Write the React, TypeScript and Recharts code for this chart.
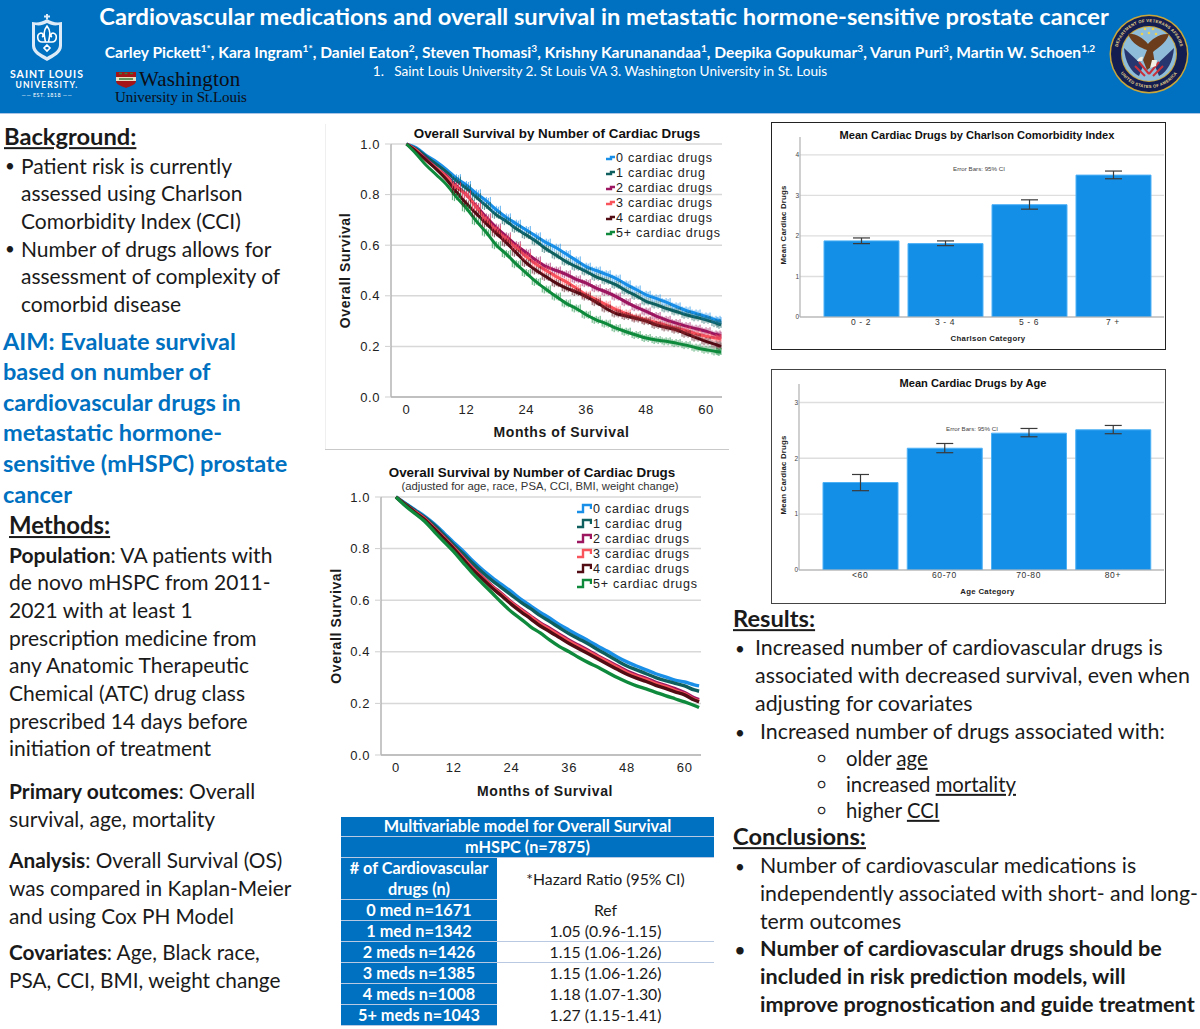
import React from 'react';
import {
  LineChart,
  Line,
  BarChart,
  Bar,
  ErrorBar,
  XAxis,
  YAxis,
  CartesianGrid,
  Legend,
} from 'recharts';

const BODY_FONT = 'Lato, "Open Sans", sans-serif';
const CHART_FONT = '"Liberation Sans", Arial, sans-serif';
const BLUE = '#0070c0';

const months = [0, 2, 4, 6, 8, 10, 12, 14, 16, 18, 20, 22, 24, 26, 28, 30, 32, 34, 36, 38, 40, 42, 44, 46, 48, 50, 52, 54, 56, 58, 60, 62, 63];
const monthTicks = [0, 12, 24, 36, 48, 60];
const survivalTicks = [0, 0.2, 0.4, 0.6, 0.8, 1];

const seriesNames = ['0 cardiac drugs', '1 cardiac drug', '2 cardiac drugs', '3 cardiac drugs', '4 cardiac drugs', '5+ cardiac drugs'];
const seriesColors = ['#1a8fe8', '#0f5f5f', '#9c1660', '#f9535c', '#520c14', '#0f8a3c'];

// Kaplan-Meier, unadjusted
const km0 = [1, 0.985, 0.955, 0.93, 0.9, 0.865, 0.838, 0.805, 0.775, 0.74, 0.71, 0.685, 0.66, 0.635, 0.61, 0.59, 0.565, 0.54, 0.515, 0.5, 0.485, 0.468, 0.445, 0.425, 0.404, 0.39, 0.375, 0.358, 0.342, 0.33, 0.318, 0.305, 0.3];
const km1 = [1, 0.98, 0.95, 0.92, 0.89, 0.855, 0.825, 0.79, 0.755, 0.72, 0.695, 0.665, 0.64, 0.615, 0.585, 0.56, 0.535, 0.515, 0.496, 0.475, 0.46, 0.443, 0.42, 0.4, 0.378, 0.365, 0.35, 0.338, 0.325, 0.315, 0.305, 0.292, 0.285];
const km2 = [1, 0.975, 0.94, 0.905, 0.875, 0.835, 0.8, 0.755, 0.71, 0.67, 0.635, 0.6, 0.57, 0.54, 0.515, 0.5, 0.485, 0.465, 0.45, 0.43, 0.415, 0.397, 0.375, 0.355, 0.338, 0.32, 0.305, 0.292, 0.28, 0.27, 0.26, 0.247, 0.242];
const km3 = [1, 0.975, 0.935, 0.905, 0.87, 0.83, 0.8, 0.75, 0.7, 0.66, 0.625, 0.59, 0.555, 0.525, 0.5, 0.476, 0.455, 0.43, 0.404, 0.385, 0.365, 0.345, 0.33, 0.315, 0.305, 0.295, 0.283, 0.272, 0.262, 0.25, 0.24, 0.233, 0.23];
const km4 = [1, 0.97, 0.935, 0.9, 0.86, 0.81, 0.765, 0.725, 0.685, 0.647, 0.61, 0.57, 0.53, 0.5, 0.475, 0.45, 0.43, 0.415, 0.397, 0.375, 0.35, 0.33, 0.32, 0.31, 0.3, 0.285, 0.275, 0.266, 0.25, 0.235, 0.22, 0.207, 0.2];
const km5 = [1, 0.96, 0.915, 0.878, 0.84, 0.79, 0.746, 0.695, 0.65, 0.6, 0.565, 0.525, 0.49, 0.455, 0.425, 0.397, 0.37, 0.35, 0.325, 0.305, 0.29, 0.272, 0.258, 0.245, 0.233, 0.225, 0.22, 0.213, 0.205, 0.195, 0.187, 0.18, 0.178];

// Cox model, adjusted
const adj0 = [1, 0.975, 0.95, 0.925, 0.895, 0.86, 0.824, 0.79, 0.752, 0.718, 0.688, 0.66, 0.633, 0.603, 0.578, 0.553, 0.53, 0.505, 0.484, 0.463, 0.443, 0.422, 0.402, 0.38, 0.361, 0.345, 0.33, 0.315, 0.303, 0.29, 0.283, 0.272, 0.268];
const adj1 = [1, 0.973, 0.947, 0.921, 0.89, 0.853, 0.815, 0.78, 0.742, 0.707, 0.676, 0.648, 0.62, 0.592, 0.567, 0.54, 0.517, 0.493, 0.47, 0.45, 0.43, 0.408, 0.387, 0.365, 0.345, 0.33, 0.315, 0.3, 0.288, 0.278, 0.268, 0.252, 0.247];
const adj2 = [1, 0.97, 0.943, 0.916, 0.88, 0.843, 0.805, 0.765, 0.725, 0.69, 0.655, 0.625, 0.593, 0.565, 0.538, 0.512, 0.49, 0.467, 0.445, 0.425, 0.405, 0.384, 0.364, 0.345, 0.325, 0.31, 0.297, 0.282, 0.27, 0.257, 0.242, 0.222, 0.215];
const adj3 = [1, 0.97, 0.942, 0.915, 0.879, 0.842, 0.804, 0.763, 0.722, 0.687, 0.652, 0.622, 0.59, 0.562, 0.535, 0.508, 0.486, 0.462, 0.44, 0.42, 0.4, 0.38, 0.36, 0.34, 0.32, 0.305, 0.292, 0.277, 0.265, 0.25, 0.237, 0.216, 0.21];
const adj4 = [1, 0.97, 0.94, 0.912, 0.876, 0.838, 0.8, 0.758, 0.717, 0.682, 0.647, 0.616, 0.584, 0.555, 0.528, 0.5, 0.478, 0.455, 0.432, 0.412, 0.392, 0.372, 0.352, 0.332, 0.313, 0.298, 0.285, 0.27, 0.258, 0.245, 0.233, 0.213, 0.206];
const adj5 = [1, 0.965, 0.935, 0.905, 0.865, 0.826, 0.788, 0.745, 0.703, 0.665, 0.628, 0.59, 0.555, 0.527, 0.497, 0.473, 0.445, 0.42, 0.4, 0.378, 0.358, 0.34, 0.32, 0.3, 0.283, 0.268, 0.256, 0.243, 0.23, 0.218, 0.206, 0.192, 0.184];

const charlsonCategories = ['0 - 2', '3 - 4', '5 - 6', '7 +'];
const charlsonMeans = [1.877, 1.81, 2.77, 3.5];
const charlsonLower = [1.81, 1.76, 2.66, 3.41];
const charlsonUpper = [1.95, 1.877, 2.89, 3.6];

const ageCategories = ['<60', '60-70', '70-80', '80+'];
const ageMeans = [1.566, 2.18, 2.45, 2.51];
const ageLower = [1.42, 2.1, 2.385, 2.44];
const ageUpper = [1.71, 2.265, 2.534, 2.588];

const tableLabels = ['0 med n=1671', '1 med n=1342', '2 meds n=1426', '3 meds n=1385', '4 meds n=1008', '5+ meds n=1043'];
const tableRatios = ['Ref', '1.05 (0.96-1.15)', '1.15 (1.06-1.26)', '1.15 (1.06-1.26)', '1.18 (1.07-1.30)', '1.27 (1.15-1.41)'];

const buildSurvival = (series: number[][]) =>
  months.map((month, i) => {
    const row: Record<string, number> = { month };
    series.forEach((values, s) => {
      row[`s${s}`] = values[i];
    });
    return row;
  });

const buildBars = (cats: string[], means: number[], lower: number[], upper: number[]) =>
  cats.map((name, i) => ({
    name,
    mean: means[i],
    err: [means[i] - lower[i], upper[i] - means[i]],
  }));

const kmData = buildSurvival([km0, km1, km2, km3, km4, km5]);
const adjData = buildSurvival([adj0, adj1, adj2, adj3, adj4, adj5]);
const charlsonData = buildBars(charlsonCategories, charlsonMeans, charlsonLower, charlsonUpper);
const ageData = buildBars(ageCategories, ageMeans, ageLower, ageUpper);

// censoring marks on the unadjusted curves
function CensorTicks(props: any) {
  const { cx, cy, stroke, index } = props;
  if (index < 5 || cx == null) return <g key={index} />;
  const d = [-4, -2, 0, 2, 4]
    .map((dx, i) => `M${cx + dx} ${cy - 4 + i % 2} v7`)
    .join(' ');
  return <path key={index} d={d} stroke={stroke} strokeWidth={1} strokeOpacity={0.7} fill="none" />;
}

function StepLegend({ payload, iconPath, iconWidth }: any) {
  return (
    <div>
      {(payload || []).map((item: any) => (
        <div key={item.value} style={{ display: 'flex', alignItems: 'center', height: 15, whiteSpace: 'nowrap' }}>
          <svg width={iconWidth} height={12} style={{ flex: 'none' }}>
            <path d={iconPath} stroke={item.color} strokeWidth={2.4} fill="none" />
          </svg>
          <span style={{ color: '#222', fontSize: 12.5, letterSpacing: 0.75, marginLeft: 1 }}>{item.value}</span>
        </div>
      ))}
    </div>
  );
}

function SurvivalChart({ data, left, top, width, height, margin, axisHeight, yWidth, domain, ticks, legendPos, iconPath, iconWidth, strokeWidth, yLabelOffset, xLabelOffset, xLabelShift }: any) {
  return (
    <div style={{ position: 'absolute', left, top, fontFamily: CHART_FONT, letterSpacing: 0.6 }}>
      <LineChart width={width} height={height} data={data} margin={margin}>
        <CartesianGrid vertical={false} stroke="#d8d8d8" strokeWidth={1.5} />
        <XAxis
          dataKey="month"
          type="number"
          domain={domain}
          ticks={monthTicks}
          allowDataOverflow
          height={axisHeight}
          tickLine={false}
          axisLine={{ stroke: '#b5b5b5', strokeWidth: 1.5 }}
          tick={{ fill: '#222', fontSize: 13 }}
          tickMargin={2}
          label={{ value: 'Months of Survival', position: 'insideBottom', offset: xLabelOffset, dx: xLabelShift, style: { fill: '#1a1a1a', fontSize: 14, fontWeight: 700 } }}
        />
        <YAxis
          type="number"
          domain={[0, 1]}
          ticks={survivalTicks}
          width={yWidth}
          tickSize={6}
          tickMargin={5}
          tickLine={{ stroke: '#cfcfcf' }}
          axisLine={{ stroke: '#b5b5b5', strokeWidth: 1.5 }}
          tick={{ fill: '#222', fontSize: 13 }}
          tickFormatter={(v: number) => v.toFixed(1)}
          label={{ value: 'Overall Survival', angle: -90, position: 'insideLeft', offset: yLabelOffset, style: { textAnchor: 'middle', fill: '#1a1a1a', fontSize: 14, fontWeight: 700 } }}
        />
        <Legend
          layout="vertical"
          align="center"
          verticalAlign="middle"
          wrapperStyle={{ position: 'absolute', left: legendPos[0], top: legendPos[1], width: 130, height: 90 }}
          content={(p: any) => <StepLegend payload={p.payload} iconPath={iconPath} iconWidth={iconWidth} />}
        />
        {seriesNames.map((name, i) => (
          <Line
            key={name}
            dataKey={`s${i}`}
            name={name}
            type="monotone"
            stroke={seriesColors[i]}
            strokeWidth={strokeWidth}
            dot={ticks ? (CensorTicks as any) : false}
            activeDot={false}
            isAnimationActive={false}
          />
        ))}
      </LineChart>
    </div>
  );
}

function MeanBarChart({ data, left, top, yDomain, yTicks, xTitle, plotTop, plotBottom, yWidth }: any) {
  return (
    <div style={{ position: 'absolute', left, top, fontFamily: CHART_FONT }}>
      <BarChart width={394} height={plotBottom} data={data} margin={{ top: plotTop, right: 1, bottom: 0, left: 0 }} barSize={75}>
        <CartesianGrid vertical={false} syncWithTicks stroke="#dedede" strokeWidth={1.4} />
        <XAxis
          dataKey="name"
          height={33}
          padding={{ left: 19, right: 9 }}
          tickLine={false}
          tickSize={0}
          axisLine={{ stroke: '#b0b0b0', strokeWidth: 1.2 }}
          tick={{ fill: '#333', fontSize: 8.5, letterSpacing: 0.6 }}
          tickMargin={2}
          interval={0}
          label={{ value: xTitle, position: 'insideBottom', offset: 9, dx: 6, style: { fill: '#222', fontSize: 7.8, fontWeight: 700, letterSpacing: 0.3 } }}
        />
        <YAxis
          type="number"
          domain={yDomain}
          ticks={yTicks}
          width={yWidth}
          allowDataOverflow
          tickLine={false}
          tickSize={0}
          axisLine={{ stroke: '#b0b0b0', strokeWidth: 1.2 }}
          tick={{ fill: '#444', fontSize: 6.5 }}
          tickMargin={1}
          label={{ value: 'Mean Cardiac Drugs', angle: -90, position: 'insideLeft', offset: 12, dy: -2, style: { textAnchor: 'middle', fill: '#222', fontSize: 7.8, fontWeight: 700, letterSpacing: 0.2 } }}
        />
        <Bar dataKey="mean" fill="#148fe8" stroke="#4db1f6" strokeWidth={1} isAnimationActive={false}>
          <ErrorBar dataKey="err" width={8.5} stroke="#3a3a3a" strokeWidth={1.2} direction="y" isAnimationActive={false} />
        </Bar>
      </BarChart>
    </div>
  );
}

function Txt({ x, y, size = 21, bold, color = '#1a1a1a', center, spacing, children }: any) {
  return (
    <div
      style={{
        position: 'absolute',
        left: x,
        top: y - 1.5,
        fontSize: size,
        fontWeight: bold ? 700 : 400,
        color,
        lineHeight: 1,
        letterSpacing: spacing,
        whiteSpace: 'pre',
        transform: center ? 'translate(-50%,-50%)' : 'translateY(-50%)',
      }}
    >
      {children}
    </div>
  );
}

function Lines({ x, y, step, lines, ...rest }: any) {
  return (
    <>
      {lines.map((line: any, i: number) => (
        <Txt key={i} x={x} y={y + i * step} {...rest}>
          {line}
        </Txt>
      ))}
    </>
  );
}

const b = (t: string) => <b>{t}</b>;
const u = (t: string) => <span style={{ textDecoration: 'underline' }}>{t}</span>;
const sup = (t: string) => <sup style={{ fontSize: '0.65em', lineHeight: 0 }}>{t}</sup>;

function SluLogo() {
  return (
    <svg style={{ position: 'absolute', left: 28, top: 13 }} width={38} height={50} viewBox="0 0 38 50">
      <path d="M19 1 v5 M16 3.5 h6" stroke="#dcebf7" strokeWidth={2} />
      <path d="M4 9 C10 10 14 9 19 6 C24 9 28 10 34 9 V33 C34 40 26 44 19 48 C12 44 4 40 4 33 Z" fill="#dcebf7" />
      <path d="M7 12 C12 13 15 12 19 10 C23 12 26 13 31 12 V32 C31 38 24 41 19 44 C14 41 7 38 7 32 Z" fill={BLUE} />
      <path d="M19 13 C23 18 22 22 20.5 29 H17.5 C16 22 15 18 19 13 Z M14 29 C9 29 8 21 13 20 C15 20 16 23 14 24 M24 29 C29 29 30 21 25 20 C23 20 22 23 24 24 M13 29 H25 M19 32 l3 3 -3 3 -3 -3 Z" fill="none" stroke="#fff" strokeWidth={1.6} />
    </svg>
  );
}

function WashULogo() {
  return (
    <>
      <svg style={{ position: 'absolute', left: 116, top: 72 }} width={20} height={16} viewBox="0 0 20 16">
        <path d="M0 0 H20 V9 C20 13 14 14 10 16 C6 14 0 13 0 9 Z" fill="#a51417" />
        <path d="M0 5 H20 V9 H0 Z" fill="#e9dfc0" />
        <path d="M3 1.5 h3 M8.5 1.5 h3 M14 1.5 h3 M3 7 H17" stroke="#3b7a3b" strokeWidth={1.5} />
      </svg>
      <div style={{ position: 'absolute', left: 139, top: 68.5, height: 21, fontFamily: '"Liberation Serif", serif', fontSize: 21, lineHeight: 1, color: '#0d0d14', letterSpacing: 0.15 }}>Washington</div>
      <div style={{ position: 'absolute', left: 115, top: 89.5, fontFamily: '"Liberation Serif", serif', fontSize: 15, lineHeight: 1, color: '#0d0d14', letterSpacing: -0.05 }}>University in St.Louis</div>
    </>
  );
}

function VaSeal() {
  return (
    <svg style={{ position: 'absolute', left: 1109, top: 14 }} width={80} height={80} viewBox="0 0 80 80">
      <circle cx={40} cy={40} r={39.5} fill="#c9a63a" />
      <circle cx={40} cy={40} r={38} fill="#141d4f" />
      <circle cx={40} cy={40} r={28} fill="#c9a63a" />
      <circle cx={40} cy={40} r={27} fill="#8fbcd8" />
      <defs>
        <path id="sealTop" d="M8 40 A32 32 0 0 1 72 40" />
        <path id="sealBottom" d="M6 40 A34 34 0 0 0 74 40" />
      </defs>
      <text fontSize={4.2} fontWeight={700} fill="#e8d48a" fontFamily={CHART_FONT} letterSpacing={0.25}>
        <textPath href="#sealTop" startOffset="50%" textAnchor="middle">DEPARTMENT OF VETERANS AFFAIRS</textPath>
      </text>
      <text fontSize={4.2} fontWeight={700} fill="#e8d48a" fontFamily={CHART_FONT} letterSpacing={0.25}>
        <textPath href="#sealBottom" startOffset="50%" textAnchor="middle">UNITED STATES OF AMERICA</textPath>
      </text>
      <path d="M15 34 L34 52 L30 62 C22 58 16 48 15 34 Z" fill="#27366e" />
      <path d="M65 34 L46 52 L50 62 C58 58 64 48 65 34 Z" fill="#27366e" />
      <path d="M26 52 L36 62 M30 48 L40 60 M54 52 L44 62 M50 48 L40 60" stroke="#c8303a" strokeWidth={2} />
      <path d="M38 36 C32 34 23 30 19 20 C26 19 34 24 39 30 C42 26 50 19 60 20 C57 30 48 34 44 38 L46 50 L38 56 L34 46 Z" fill="#6c3d1c" />
      <path d="M34 43 C31 42 29 45 28 47 L33 47 Z" fill="#f2efe4" />
      <path d="M43 46 L48 46 L47 52 L41 54 Z" fill="#f2efe4" />
      <circle cx={36} cy={15} r={1.3} fill="#f0d34a" />
      <circle cx={44} cy={15} r={1.3} fill="#f0d34a" />
      <circle cx={40} cy={19} r={1.3} fill="#f0d34a" />
      <circle cx={33} cy={20} r={1.3} fill="#f0d34a" />
      <circle cx={47} cy={20} r={1.3} fill="#f0d34a" />
    </svg>
  );
}

function HazardTable() {
  const cell = (l: number, t: number, w: number, h: number, bg: string, color: string, weight: number, content: React.ReactNode, border = '1px solid #b9c9e2') => (
    <div
      style={{
        position: 'absolute',
        left: l,
        top: t,
        width: w,
        height: h,
        background: bg,
        color,
        fontWeight: weight,
        fontSize: weight === 700 ? 16.3 : 15.8,
        lineHeight: '20.5px',
        textAlign: 'center',
        display: 'flex',
        alignItems: 'center',
        justifyContent: 'center',
        borderBottom: border,
        boxSizing: 'border-box',
      }}
    >
      <span>{content}</span>
    </div>
  );
  const rowTops = [900, 921, 942, 963, 984, 1005];
  return (
    <>
      {cell(341, 817, 373, 20, BLUE, '#fff', 700, 'Multivariable model for Overall Survival')}
      {cell(341, 837, 373, 21, BLUE, '#fff', 700, 'mHSPC (n=7875)')}
      {cell(341, 858, 156, 42, BLUE, '#fff', 700, <>{'# of Cardiovascular'}<br />{'drugs (n)'}</>)}
      {cell(497, 858, 217, 42, '#fff', '#1a1a1a', 400, '*Hazard Ratio (95% CI)', 'none')}
      {tableLabels.map((label, i) => (
        <React.Fragment key={label}>
          {cell(341, rowTops[i], 156, 21, BLUE, '#fff', 700, label)}
          {cell(497, rowTops[i], 217, 21, '#fff', '#1a1a1a', 400, tableRatios[i], i === 1 || i === 2 ? '1px solid #b9c9e2' : 'none')}
        </React.Fragment>
      ))}
    </>
  );
}

export default function App() {
  return (
    <div style={{ position: 'absolute', left: 0, top: 0, width: 1200, height: 1029, overflow: 'hidden', background: '#fff', fontFamily: BODY_FONT }}>
      {/* banner */}
      <div style={{ position: 'absolute', left: 0, top: 0, width: 1200, height: 113, background: BLUE, borderBottom: '1px solid #a9c4e4' }} />
      <Txt x={604} y={18} size={23.7} bold color="#fff" center>Cardiovascular medications and overall survival in metastatic hormone-sensitive prostate cancer</Txt>
      <Txt x={600} y={54} size={15.6} bold color="#fff" center>
        Carley Pickett{sup('1*')}, Kara Ingram{sup('1*')}, Daniel Eaton{sup('2')}, Steven Thomasi{sup('3')}, Krishny Karunanandaa{sup('1')}, Deepika Gopukumar{sup('3')}, Varun Puri{sup('3')}, Martin W. Schoen{sup('1,2')}
      </Txt>
      <Txt x={600} y={73} size={13.6} color="#fff" center>{'1.   Saint Louis University 2. St Louis VA 3. Washington University in St. Louis'}</Txt>
      <SluLogo />
      <Txt x={47} y={75} size={10.5} bold color="#fff" center spacing={1}>SAINT LOUIS</Txt>
      <Txt x={47} y={86} size={8.5} bold color="#fff" center spacing={1.1}>UNIVERSITY.</Txt>
      <Txt x={47} y={97} size={5.5} color="#fff" center spacing={0.4}>{'—— EST. 1818 ——'}</Txt>
      <WashULogo />
      <VaSeal />

      {/* left column */}
      <Txt x={4} y={138} size={23.7} bold>{u('Background:')}</Txt>
      <Lines x={5} y={166} step={83} size={17} lines={['•', '•']} />
      <Lines x={21} y={166} step={27.7} size={21} lines={['Patient risk is currently', 'assessed using Charlson', 'Comorbidity Index (CCI)', 'Number of drugs allows for', 'assessment of complexity of', 'comorbid disease']} />
      <Lines x={3} y={343} step={30.6} size={23.5} bold color={BLUE} lines={['AIM: Evaluate survival', 'based on number of', 'cardiovascular drugs in', 'metastatic hormone-', 'sensitive (mHSPC) prostate', 'cancer']} />
      <Txt x={9} y={526} size={23.9} bold>{u('Methods:')}</Txt>
      <Lines x={9} y={555} step={27.7} size={21} lines={[<>{b('Population')}: VA patients with</>, 'de novo mHSPC from 2011-', '2021 with at least 1', 'prescription medicine from', 'any Anatomic Therapeutic', 'Chemical (ATC) drug class', 'prescribed 14 days before', 'initiation of treatment']} />
      <Lines x={9} y={791} step={28} size={21} lines={[<>{b('Primary outcomes')}: Overall</>, 'survival, age, mortality']} />
      <Lines x={9} y={861} step={28} size={20.8} lines={[<>{b('Analysis')}: Overall Survival (OS)</>, 'was compared in Kaplan-Meier', 'and using Cox PH Model']} />
      <Lines x={9} y={953} step={28} size={20.8} lines={[<>{b('Covariates')}: Age, Black race,</>, 'PSA, CCI, BMI, weight change']} />

      {/* survival panels */}
      <div style={{ position: 'absolute', left: 325, top: 124, width: 1, height: 325, background: '#efefef' }} />
      <div style={{ position: 'absolute', left: 325, top: 449, width: 404, height: 1, background: '#c9c9c9' }} />
      <div style={{ position: 'absolute', left: 557, top: 133, transform: 'translate(-50%,-50%)', fontFamily: CHART_FONT, fontSize: 13.4, fontWeight: 700, color: '#111', whiteSpace: 'nowrap' }}>Overall Survival by Number of Cardiac Drugs</div>
      <SurvivalChart
        data={kmData}
        left={325}
        top={125}
        width={410}
        height={325}
        margin={{ top: 19, right: 13, bottom: 0, left: 0 }}
        axisHeight={53}
        yWidth={66}
        domain={[-3.1, 63.2]}
        ticks
        legendPos={[281, 25.5]}
        iconPath="M0 7 H5 V5 H9"
        iconWidth={9}
        strokeWidth={3}
        yLabelOffset={20}
        xLabelOffset={13}
        xLabelShift={5}
      />
      <div style={{ position: 'absolute', left: 532, top: 472, transform: 'translate(-50%,-50%)', fontFamily: CHART_FONT, fontSize: 13.4, fontWeight: 700, color: '#111', whiteSpace: 'nowrap' }}>Overall Survival by Number of Cardiac Drugs</div>
      <div style={{ position: 'absolute', left: 540, top: 486, transform: 'translate(-50%,-50%)', fontFamily: CHART_FONT, fontSize: 11.3, color: '#333', whiteSpace: 'nowrap' }}>(adjusted for age, race, PSA, CCI, BMI, weight change)</div>
      <SurvivalChart
        data={adjData}
        left={325}
        top={455}
        width={410}
        height={345}
        margin={{ top: 42, right: 34, bottom: 0, left: 0 }}
        axisHeight={45}
        yWidth={56}
        domain={[-3.1, 63.4]}
        ticks={false}
        legendPos={[252, 46.5]}
        iconPath="M0 9 H6 V2 H14 V6"
        iconWidth={15}
        strokeWidth={3.4}
        yLabelOffset={11}
        xLabelOffset={4}
        xLabelShift={4}
      />
      <HazardTable />

      {/* bar panels */}
      <div style={{ position: 'absolute', left: 771, top: 122, width: 395, height: 228, border: '1.5px solid #222', boxSizing: 'border-box' }} />
      <div style={{ position: 'absolute', left: 977, top: 135, transform: 'translate(-50%,-50%)', fontFamily: CHART_FONT, fontSize: 11.1, fontWeight: 700, color: '#111', whiteSpace: 'nowrap' }}>Mean Cardiac Drugs by Charlson Comorbidity Index</div>
      <div style={{ position: 'absolute', left: 979, top: 168, transform: 'translate(-50%,-50%)', fontFamily: CHART_FONT, fontSize: 6.2, color: '#444', whiteSpace: 'nowrap' }}>Error Bars: 95% CI</div>
      <MeanBarChart data={charlsonData} left={771} top={122} yDomain={[0, 4.44]} yTicks={[0, 1, 2, 3, 4]} xTitle="Charlson Category" plotTop={15} plotBottom={228} yWidth={29} />

      <div style={{ position: 'absolute', left: 771, top: 369, width: 395, height: 235, border: '1.5px solid #444', boxSizing: 'border-box' }} />
      <div style={{ position: 'absolute', left: 973, top: 383, transform: 'translate(-50%,-50%)', fontFamily: CHART_FONT, fontSize: 11.1, fontWeight: 700, color: '#111', whiteSpace: 'nowrap' }}>Mean Cardiac Drugs by Age</div>
      <MeanBarChart data={ageData} left={771} top={369} yDomain={[0, 3.33]} yTicks={[0, 1, 2, 3]} xTitle="Age Category" plotTop={15} plotBottom={234} yWidth={28} />
      <div style={{ position: 'absolute', left: 972, top: 428, transform: 'translate(-50%,-50%)', fontFamily: CHART_FONT, fontSize: 6.2, color: '#444', whiteSpace: 'nowrap' }}>Error Bars: 95% CI</div>

      {/* right column */}
      <Txt x={733} y={620} size={23.7} bold>{u('Results:')}</Txt>
      <Txt x={735} y={649} size={17}>•</Txt>
      <Lines x={755} y={649} step={28} size={21.4} lines={['Increased number of cardiovascular drugs is', 'associated with decreased survival, even when', 'adjusting for covariates']} />
      <Txt x={735} y={733} size={17}>•</Txt>
      <Txt x={760} y={733} size={21.4}>Increased number of drugs associated with:</Txt>
      <Lines x={817} y={759} step={26} size={14} lines={['○', '○', '○']} />
      <Lines x={846} y={759} step={26} size={20.3} lines={[<>older {u('age')}</>, <>increased {u('mortality')}</>, <>higher {u('CCI')}</>]} />
      <Txt x={733} y={838} size={23.7} bold>{u('Conclusions:')}</Txt>
      <Txt x={735} y={867} size={17}>•</Txt>
      <Lines x={760} y={867} step={28} size={21.3} lines={['Number of cardiovascular medications is', 'independently associated with short- and long-', 'term outcomes']} />
      <Txt x={735} y={950} size={17} bold>•</Txt>
      <Lines x={760} y={950} step={28} size={21.6} bold lines={['Number of cardiovascular drugs should be', 'included in risk prediction models, will', 'improve prognostication and guide treatment']} />
    </div>
  );
}
